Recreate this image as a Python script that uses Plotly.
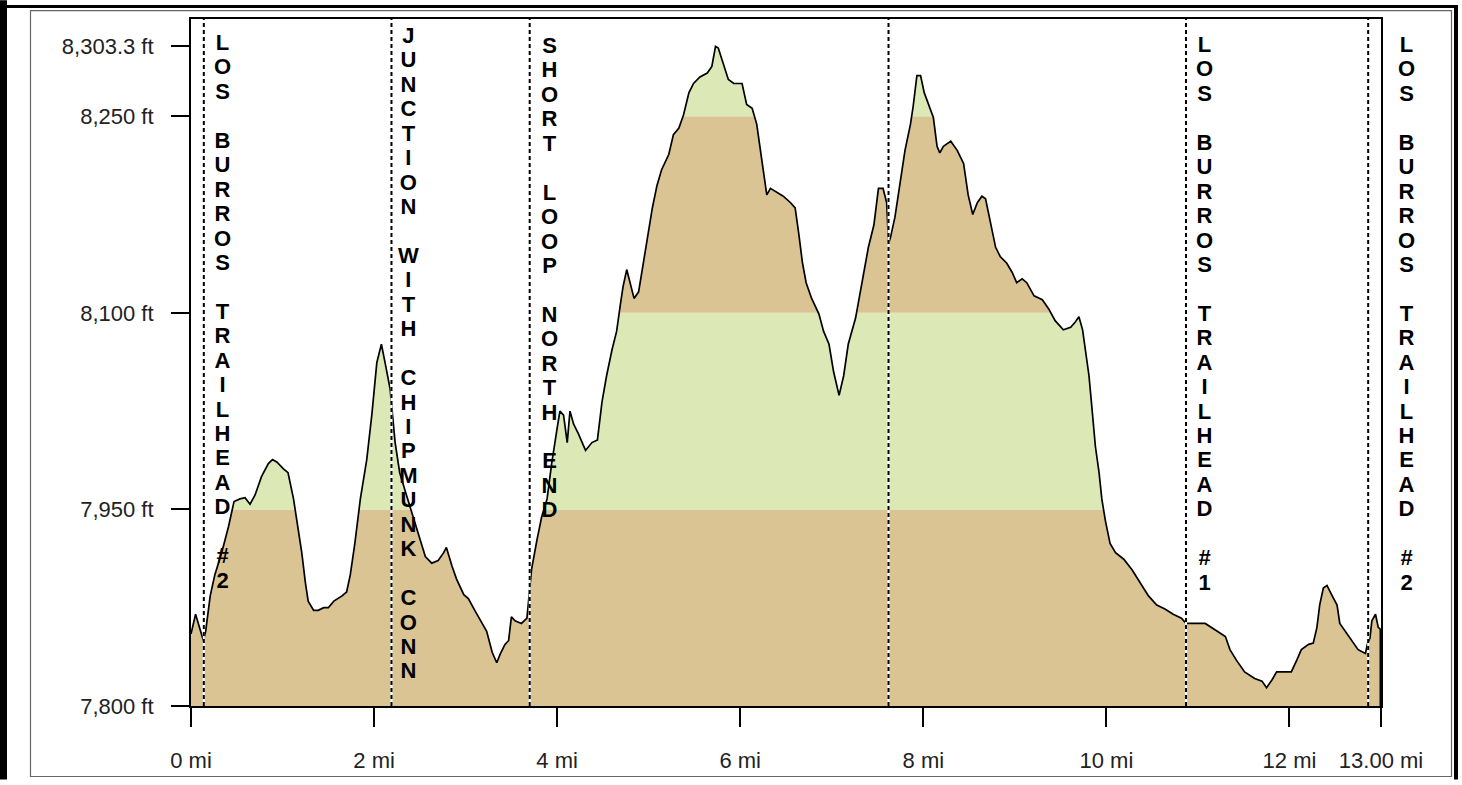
import plotly.graph_objects as go

# ---------------- data ----------------
dist_mi = [0.00, 0.05, 0.08, 0.11, 0.135, 0.16, 0.21, 0.26, 0.335, 0.41, 0.47, 0.535, 0.59, 0.645, 0.70,
           0.77, 0.845, 0.89, 0.94, 1.01, 1.06, 1.12, 1.17, 1.21, 1.25, 1.28, 1.34, 1.39, 1.45, 1.50,
           1.56, 1.65, 1.70, 1.74, 1.79, 1.85, 1.92, 1.975, 2.03, 2.08, 2.12, 2.175, 2.23, 2.28, 2.34,
           2.41, 2.48, 2.56, 2.63, 2.70, 2.76, 2.79, 2.85, 2.90, 2.98, 3.03, 3.10, 3.18, 3.23, 3.29,
           3.34, 3.38, 3.43, 3.47, 3.50, 3.54, 3.61, 3.67, 3.69, 3.72, 3.78, 3.83, 3.89, 3.94, 4.00,
           4.03, 4.07, 4.11, 4.14, 4.18, 4.23, 4.31, 4.38, 4.44, 4.49, 4.54, 4.60, 4.65, 4.69, 4.72,
           4.76, 4.80, 4.84, 4.89, 4.93, 4.98, 5.04, 5.09, 5.14, 5.22, 5.27, 5.33, 5.38, 5.44, 5.49,
           5.56, 5.64, 5.69, 5.73, 5.76, 5.82, 5.87, 5.93, 6.02, 6.07, 6.13, 6.18, 6.22, 6.25, 6.29,
           6.33, 6.40, 6.47, 6.55, 6.60, 6.64, 6.68, 6.72, 6.78, 6.86, 6.91, 6.97, 7.02, 7.08, 7.13,
           7.18, 7.26, 7.33, 7.40, 7.46, 7.51, 7.56, 7.60, 7.62, 7.64, 7.69, 7.75, 7.80, 7.86, 7.89,
           7.93, 7.97, 8.01, 8.06, 8.11, 8.15, 8.18, 8.22, 8.30, 8.37, 8.44, 8.49, 8.54, 8.59, 8.64,
           8.68, 8.73, 8.79, 8.84, 8.91, 8.97, 9.02, 9.08, 9.13, 9.21, 9.30, 9.37, 9.44, 9.53, 9.61,
           9.66, 9.70, 9.74, 9.77, 9.81, 9.84, 9.88, 9.92, 9.95, 9.99, 10.04, 10.10, 10.19, 10.28, 10.37,
           10.46, 10.55, 10.64, 10.73, 10.82, 10.87, 10.97, 11.08, 11.19, 11.30, 11.35, 11.42, 11.51, 11.62, 11.70,
           11.75, 11.81, 11.86, 11.95, 12.02, 12.08, 12.13, 12.21, 12.26, 12.30, 12.33, 12.37, 12.41, 12.46, 12.52,
           12.55, 12.61, 12.68, 12.75, 12.83, 12.85, 12.88, 12.90, 12.94, 12.97, 13.00]

elev_ft = [7855, 7870, 7863, 7855, 7850, 7857, 7884, 7900, 7917, 7937, 7956, 7958, 7959, 7954, 7961,
           7975, 7985, 7988, 7986, 7981, 7978, 7958, 7937, 7917, 7894, 7880, 7873, 7873, 7875, 7875,
           7880, 7884, 7887, 7900, 7924, 7958, 7988, 8022, 8062, 8076, 8062, 8042, 8001, 7978, 7964,
           7948, 7931, 7914, 7909, 7911, 7917, 7921, 7907, 7897, 7885, 7882, 7873, 7863, 7857, 7841,
           7833, 7840, 7847, 7850, 7868, 7865, 7863, 7867, 7884, 7904, 7927, 7944, 7958, 7985, 8012,
           8025, 8022, 8001, 8025, 8015, 8008, 7995, 8001, 8003, 8032, 8052, 8072, 8086, 8106, 8120,
           8133, 8123, 8111, 8116, 8133, 8153, 8180, 8197, 8209, 8221, 8236, 8241, 8251, 8268, 8275,
           8280, 8283, 8288, 8303.3, 8302, 8288, 8278, 8275, 8275, 8259, 8256, 8244, 8224, 8207, 8190,
           8195, 8192, 8189, 8184, 8180, 8160, 8138, 8123, 8111, 8099, 8086, 8076, 8055, 8037, 8052,
           8076, 8096, 8123, 8150, 8167, 8195, 8195, 8184, 8153, 8157, 8173, 8200, 8224, 8244, 8258,
           8281, 8281, 8268, 8259, 8249, 8227, 8222, 8227, 8231, 8224, 8214, 8190, 8175, 8184, 8189,
           8187, 8170, 8150, 8143, 8138, 8131, 8123, 8126, 8123, 8113, 8110, 8103, 8094, 8087, 8089,
           8093, 8097, 8087, 8072, 8052, 8029, 7998, 7978, 7958, 7941, 7924, 7917, 7912, 7904, 7894,
           7884, 7877, 7874, 7870, 7867, 7863, 7863, 7863, 7858, 7853, 7843, 7835, 7826, 7821, 7819,
           7814, 7820, 7826, 7826, 7826, 7835, 7843, 7847, 7848, 7860, 7877, 7890, 7892, 7885, 7877,
           7863, 7857, 7850, 7843, 7840, 7847, 7852, 7865, 7870, 7860, 7858]

waypoint_mi = [0.14, 2.19, 3.70, 7.62, 10.87, 12.86]
waypoint_names = ["LOS BURROS TRAILHEAD #2", "JUNCTION WITH CHIPMUNK CONN", "SHORT LOOP NORTH END",
                  "", "LOS BURROS TRAILHEAD #1", "LOS BURROS TRAILHEAD #2"]

band_edges_ft = [7800, 7950, 8100, 8250, 8324.2]
band_colors = ["#DBC494", "#DCE9B6", "#DBC494", "#DCE9B6"]

ytick_vals = [7800, 7950, 8100, 8250, 8303.3]
ytick_text = ["7,800 ft", "7,950 ft", "8,100 ft", "8,250 ft", "8,303.3 ft"]
xtick_vals = [0, 2, 4, 6, 8, 10, 12, 13]
xtick_text = ["0 mi", "2 mi", "4 mi", "6 mi", "8 mi", "10 mi", "12 mi", "13.00 mi"]

# ---------------- layout constants ----------------
W, H = 1462, 785
ML, MR, MT, MB = 191, 81, 19, 74
PW, PH = W - ML - MR, H - MT - MB
label_xshift = [19, 17, 20, 18, 18, 38]
label_top_px = [28.0, 21.0, 31.0, 30.0, 30.0, 30.0]
LETTER_PITCH_FONT = 18.8   # sets line spacing (1.3 em)
LETTER_GLYPH_PX = 22       # glyph size
y_top = band_edges_ft[-1]


def px_x(p):
    return (p - ML) / PW


def px_y(p):
    return (H - MB - p) / PH


def stacked(name):
    lines = []
    for ch in name:
        if ch == " ":
            lines.append("")
        else:
            lines.append('<span style="font-size:%dpx"><b>%s</b></span>' % (LETTER_GLYPH_PX, ch))
    return "<br>".join(lines)


fig = go.Figure()

fig.add_trace(go.Scatter(x=dist_mi, y=elev_ft, mode="lines", line=dict(width=0, color="rgba(0,0,0,0)"),
                         hoverinfo="skip", showlegend=False))
fig.add_trace(go.Scatter(x=dist_mi, y=[y_top] * len(dist_mi), mode="lines", line=dict(width=0, color="white"),
                         fill="tonexty", fillcolor="white", hoverinfo="skip", showlegend=False))
fig.add_trace(go.Scatter(x=dist_mi, y=elev_ft, mode="lines", line=dict(width=1.7, color="black"),
                         showlegend=False, hovertemplate="%{x:.2f} mi<br>%{y:,.0f} ft<extra></extra>"))

shapes = []
for i, col in enumerate(band_colors):
    shapes.append(dict(type="rect", xref="x", yref="y", x0=dist_mi[0], x1=dist_mi[-1],
                       y0=band_edges_ft[i], y1=band_edges_ft[i + 1], fillcolor=col,
                       line=dict(width=0), layer="below"))

shapes.append(dict(type="line", xref="x", yref="y", x0=dist_mi[-1], x1=dist_mi[-1],
                   y0=band_edges_ft[0], y1=elev_ft[-1], line=dict(color="black", width=3), layer="above"))

for wx in waypoint_mi:
    shapes.append(dict(type="line", xref="x", yref="paper", x0=wx, x1=wx, y0=0, y1=1,
                       line=dict(color="white", width=2), layer="above"))
    shapes.append(dict(type="line", xref="x", yref="paper", x0=wx, x1=wx, y0=0, y1=1,
                       line=dict(color="black", width=2, dash="4px,3px"), layer="above"))

# outer frames (filled bars + thin inner rectangle)
frame_bars = [(0, 7, 0, 785), (0, 1458, 5, 8), (1454, 1458, 5, 785)]
for (a, b, c, d) in frame_bars:
    shapes.append(dict(type="rect", xref="paper", yref="paper", x0=px_x(a), x1=px_x(b),
                       y0=px_y(d), y1=px_y(c), fillcolor="black", line=dict(width=0)))
shapes.append(dict(type="rect", xref="paper", yref="paper", x0=px_x(30.5), x1=px_x(1451.5),
                   y0=px_y(782), y1=px_y(10.5), line=dict(color="#666", width=1.2), fillcolor="rgba(0,0,0,0)"))

annotations = []
for i, (wx, name) in enumerate(zip(waypoint_mi, waypoint_names)):
    if not name:
        continue
    annotations.append(dict(x=wx, xref="x", y=1, yref="paper", xanchor="center", yanchor="top",
                            xshift=label_xshift[i], yshift=-(label_top_px[i] - MT),
                            text=stacked(name), showarrow=False, align="center",
                            font=dict(family="Arial", size=LETTER_PITCH_FONT, color="black")))

fig.update_layout(
    width=W, height=H,
    margin=dict(l=ML, r=MR, t=MT, b=MB, pad=0),
    paper_bgcolor="white", plot_bgcolor="white",
    showlegend=False,
    shapes=shapes, annotations=annotations,
    xaxis=dict(range=[dist_mi[0], dist_mi[-1]], tickvals=xtick_vals, ticktext=xtick_text,
               ticks="outside", ticklen=19, tickwidth=2, tickcolor="black",
               showline=True, linecolor="black", linewidth=2, mirror=True,
               showgrid=False, zeroline=False, ticklabelstandoff=15,
               tickfont=dict(family="Arial", size=22, color="#222")),
    yaxis=dict(range=[band_edges_ft[0], y_top], tickvals=ytick_vals, ticktext=ytick_text,
               ticks="outside", ticklen=18, tickwidth=2, tickcolor="black",
               showline=True, linecolor="black", linewidth=2, mirror=True,
               showgrid=False, zeroline=False, ticklabelstandoff=13,
               tickfont=dict(family="Arial", size=22, color="#222")),
)

fig.write_html("out.html", config={"displayModeBar": False},
               post_script="document.body.style.margin='0';document.body.style.overflow='hidden';")
